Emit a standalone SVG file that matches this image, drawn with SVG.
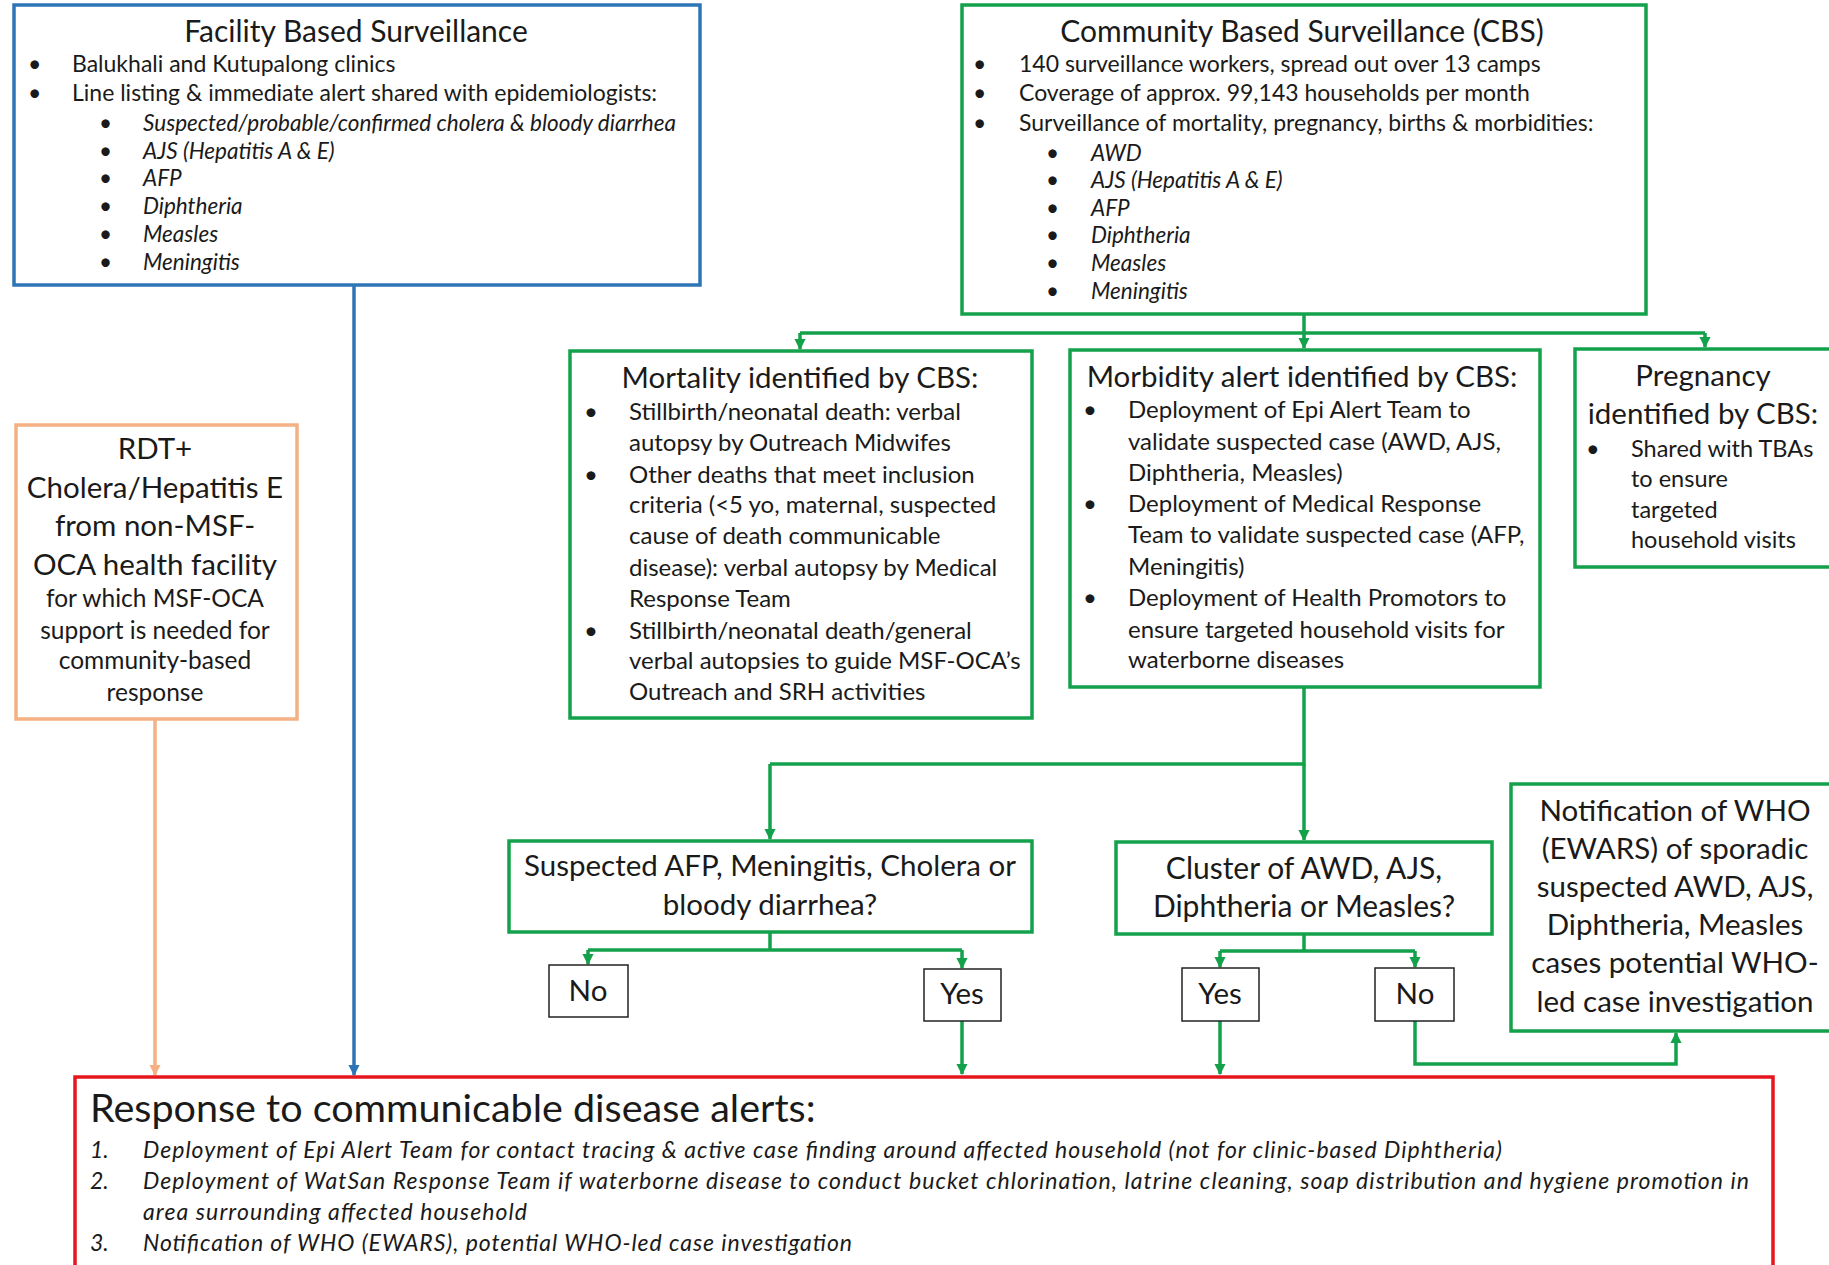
<svg xmlns="http://www.w3.org/2000/svg" width="1829" height="1265" viewBox="0 0 1829 1265">
<defs>
<style>
text{font-family:Lato,"Open Sans","Liberation Sans",sans-serif;fill:#1a1a1a}
.box{fill:#fff;stroke-width:3.5}
.g{stroke:#13A14B}
.b{stroke:#2E75B6}
.o{stroke:#F4B183}
.r{stroke:#E5161D}
.k{fill:#fff;stroke:#222;stroke-width:1.5}
.t{font-size:29.5px;text-anchor:middle}
.t30{font-size:30px;text-anchor:middle}
.s{font-size:23px}
.si{font-size:22.5px;font-style:italic}
.ri{font-size:23px;font-style:italic}
.m{font-size:24px}
.p{font-size:23.5px}
.rs{font-size:24.5px;text-anchor:middle}
.n{font-style:normal}
.ln{fill:none;stroke-width:3.5}
</style>
<marker id="ag" viewBox="0 0 10 10" refX="9" refY="5" markerWidth="3.2" markerHeight="3.2" orient="auto"><path d="M0,0L10,5L0,10z" fill="#13A14B"/></marker>
<marker id="ab" viewBox="0 0 10 10" refX="9" refY="5" markerWidth="3.2" markerHeight="3.2" orient="auto"><path d="M0,0L10,5L0,10z" fill="#2E75B6"/></marker>
<marker id="ao" viewBox="0 0 10 10" refX="9" refY="5" markerWidth="3.2" markerHeight="3.2" orient="auto"><path d="M0,0L10,5L0,10z" fill="#F4B183"/></marker>
</defs>
<rect width="1829" height="1265" fill="#fff"/>

<g id="connectors">
<path class="ln b" d="M354,285V1075" marker-end="url(#ab)"/>
<path class="ln o" d="M155,719V1075" marker-end="url(#ao)"/>
<path class="ln g" d="M1304,314V333M800,333H1705"/>
<path class="ln g" d="M800,333V349" marker-end="url(#ag)"/>
<path class="ln g" d="M1304,333V348" marker-end="url(#ag)"/>
<path class="ln g" d="M1705,333V347" marker-end="url(#ag)"/>
<path class="ln g" d="M1304,687V764H770"/>
<path class="ln g" d="M770,764V839" marker-end="url(#ag)"/>
<path class="ln g" d="M1304,764V840" marker-end="url(#ag)"/>
<path class="ln g" d="M770,932V950H588M770,950H962"/>
<path class="ln g" d="M588,950V964" marker-end="url(#ag)"/>
<path class="ln g" d="M962,950V968" marker-end="url(#ag)"/>
<path class="ln g" d="M962,1021V1074" marker-end="url(#ag)"/>
<path class="ln g" d="M1304,934V951H1220M1304,951H1415"/>
<path class="ln g" d="M1220,951V967" marker-end="url(#ag)"/>
<path class="ln g" d="M1415,951V967" marker-end="url(#ag)"/>
<path class="ln g" d="M1220,1021V1074" marker-end="url(#ag)"/>
<path class="ln g" d="M1415,1021V1064H1676V1033" marker-end="url(#ag)"/>
</g>

<g id="facility">
<rect class="box b" x="14" y="5" width="686" height="280"/>
<text class="t30" x="356" y="42">Facility Based Surveillance</text>
<text class="s" x="28" y="72">•</text><text class="s" x="72" y="72">Balukhali and Kutupalong clinics</text>
<text class="s" x="28" y="101">•</text><text class="s" x="72" y="101">Line listing &amp; immediate alert shared with epidemiologists:</text>
<g class="si">
<text class="n" x="99" y="131">•</text><text x="143" y="131">Suspected/probable/confirmed cholera &amp; bloody diarrhea</text>
<text class="n" x="99" y="159">•</text><text x="143" y="159">AJS (Hepatitis A &amp; E)</text>
<text class="n" x="99" y="186">•</text><text x="143" y="186">AFP</text>
<text class="n" x="99" y="214">•</text><text x="143" y="214">Diphtheria</text>
<text class="n" x="99" y="242">•</text><text x="143" y="242">Measles</text>
<text class="n" x="99" y="270">•</text><text x="143" y="270">Meningitis</text>
</g>
</g>

<g id="cbs">
<rect class="box g" x="962" y="5" width="684" height="309"/>
<text class="t30" x="1302" y="42">Community Based Surveillance (CBS)</text>
<text class="s" x="973" y="72">•</text><text class="s" x="1019" y="72">140 surveillance workers, spread out over 13 camps</text>
<text class="s" x="973" y="101">•</text><text class="s" x="1019" y="101">Coverage of approx. 99,143 households per month</text>
<text class="s" x="973" y="131">•</text><text class="s" x="1019" y="131">Surveillance of mortality, pregnancy, births &amp; morbidities:</text>
<g class="si">
<text class="n" x="1046" y="161">•</text><text x="1091" y="161">AWD</text>
<text class="n" x="1046" y="188">•</text><text x="1091" y="188">AJS (Hepatitis A &amp; E)</text>
<text class="n" x="1046" y="216">•</text><text x="1091" y="216">AFP</text>
<text class="n" x="1046" y="243">•</text><text x="1091" y="243">Diphtheria</text>
<text class="n" x="1046" y="271">•</text><text x="1091" y="271">Measles</text>
<text class="n" x="1046" y="299">•</text><text x="1091" y="299">Meningitis</text>
</g>
</g>

<g id="mortality">
<rect class="box g" x="570" y="351" width="462" height="367"/>
<text class="t" x="800" y="388">Mortality identified by CBS:</text>
<g class="m">
<text x="584" y="420">•</text><text x="629" y="420">Stillbirth/neonatal death: verbal</text>
<text x="629" y="451">autopsy by Outreach Midwifes</text>
<text x="584" y="483">•</text><text x="629" y="483">Other deaths that meet inclusion</text>
<text x="629" y="513">criteria (&lt;5 yo, maternal, suspected</text>
<text x="629" y="544">cause of death communicable</text>
<text x="629" y="576">disease): verbal autopsy by Medical</text>
<text x="629" y="607">Response Team</text>
<text x="584" y="639">•</text><text x="629" y="639">Stillbirth/neonatal death/general</text>
<text x="629" y="669">verbal autopsies to guide MSF-OCA’s</text>
<text x="629" y="700">Outreach and SRH activities</text>
</g>
</g>

<g id="morbidity">
<rect class="box g" x="1070" y="350" width="470" height="337"/>
<text class="t" x="1302" y="387">Morbidity alert identified by CBS:</text>
<g class="m">
<text x="1083" y="418">•</text><text x="1128" y="418">Deployment of Epi Alert Team to</text>
<text x="1128" y="450">validate suspected case (AWD, AJS,</text>
<text x="1128" y="481">Diphtheria, Measles)</text>
<text x="1083" y="512">•</text><text x="1128" y="512">Deployment of Medical Response</text>
<text x="1128" y="543">Team to validate suspected case (AFP,</text>
<text x="1128" y="575">Meningitis)</text>
<text x="1083" y="606">•</text><text x="1128" y="606">Deployment of Health Promotors to</text>
<text x="1128" y="638">ensure targeted household visits for</text>
<text x="1128" y="668">waterborne diseases</text>
</g>
</g>

<g id="pregnancy">
<rect class="box g" x="1575" y="349" width="270" height="218"/>
<text class="t" x="1703" y="386">Pregnancy</text>
<text class="t" x="1703" y="424">identified by CBS:</text>
<g class="p">
<text x="1586" y="457">•</text><text x="1631" y="457">Shared with TBAs</text>
<text x="1631" y="487">to ensure</text>
<text x="1631" y="518">targeted</text>
<text x="1631" y="548">household visits</text>
</g>
</g>

<g id="rdt">
<rect class="box o" x="16" y="425" width="281" height="294"/>
<text class="t" x="155" y="459">RDT+</text>
<text class="t" x="155" y="498">Cholera/Hepatitis E</text>
<text class="t" x="155" y="536">from non-MSF-</text>
<text class="t" x="155" y="575">OCA health facility</text>
<g class="rs">
<text x="155" y="607">for which MSF-OCA</text>
<text x="155" y="639">support is needed for</text>
<text x="155" y="669">community-based</text>
<text x="155" y="701">response</text>
</g>
</g>

<g id="q1">
<rect class="box g" x="509" y="841" width="523" height="91"/>
<text class="t" x="770" y="876">Suspected AFP, Meningitis, Cholera or</text>
<text class="t" x="770" y="915">bloody diarrhea?</text>
</g>
<g id="q2">
<rect class="box g" x="1116" y="842" width="376" height="92"/>
<text class="t30" x="1304" y="879">Cluster of AWD, AJS,</text>
<text class="t30" x="1304" y="917">Diphtheria or Measles?</text>
</g>

<g id="no1"><rect class="k" x="549" y="965" width="79" height="52"/><text class="t" x="588" y="1001">No</text></g>
<g id="yes1"><rect class="k" x="924" y="969" width="77" height="52"/><text class="t" x="962" y="1004">Yes</text></g>
<g id="yes2"><rect class="k" x="1182" y="968" width="77" height="53"/><text class="t" x="1220" y="1004">Yes</text></g>
<g id="no2"><rect class="k" x="1375" y="968" width="79" height="53"/><text class="t" x="1415" y="1004">No</text></g>

<g id="who">
<rect class="box g" x="1511" y="784" width="330" height="247"/>
<g class="t">
<text x="1675" y="821">Notification of WHO</text>
<text x="1675" y="859">(EWARS) of sporadic</text>
<text x="1675" y="897">suspected AWD, AJS,</text>
<text x="1675" y="935">Diphtheria, Measles</text>
<text x="1675" y="973">cases potential WHO-</text>
<text x="1675" y="1012">led case investigation</text>
</g>
</g>

<g id="response">
<rect class="box r" x="75" y="1077" width="1698" height="200"/>
<text x="90" y="1122" font-size="39.5">Response to communicable disease alerts:</text>
<g class="ri">
<text x="90" y="1158">1.</text><text x="143" y="1158" textLength="1359" lengthAdjust="spacing">Deployment of Epi Alert Team for contact tracing &amp; active case finding around affected household (not for clinic-based Diphtheria)</text>
<text x="90" y="1189">2.</text><text x="143" y="1189" textLength="1606" lengthAdjust="spacing">Deployment of WatSan Response Team if waterborne disease to conduct bucket chlorination, latrine cleaning, soap distribution and hygiene promotion in</text>
<text x="143" y="1220" textLength="384" lengthAdjust="spacing">area surrounding affected household</text>
<text x="90" y="1251">3.</text><text x="143" y="1251" textLength="709" lengthAdjust="spacing">Notification of WHO (EWARS), potential WHO-led case investigation</text>
</g>
</g>
</svg>
